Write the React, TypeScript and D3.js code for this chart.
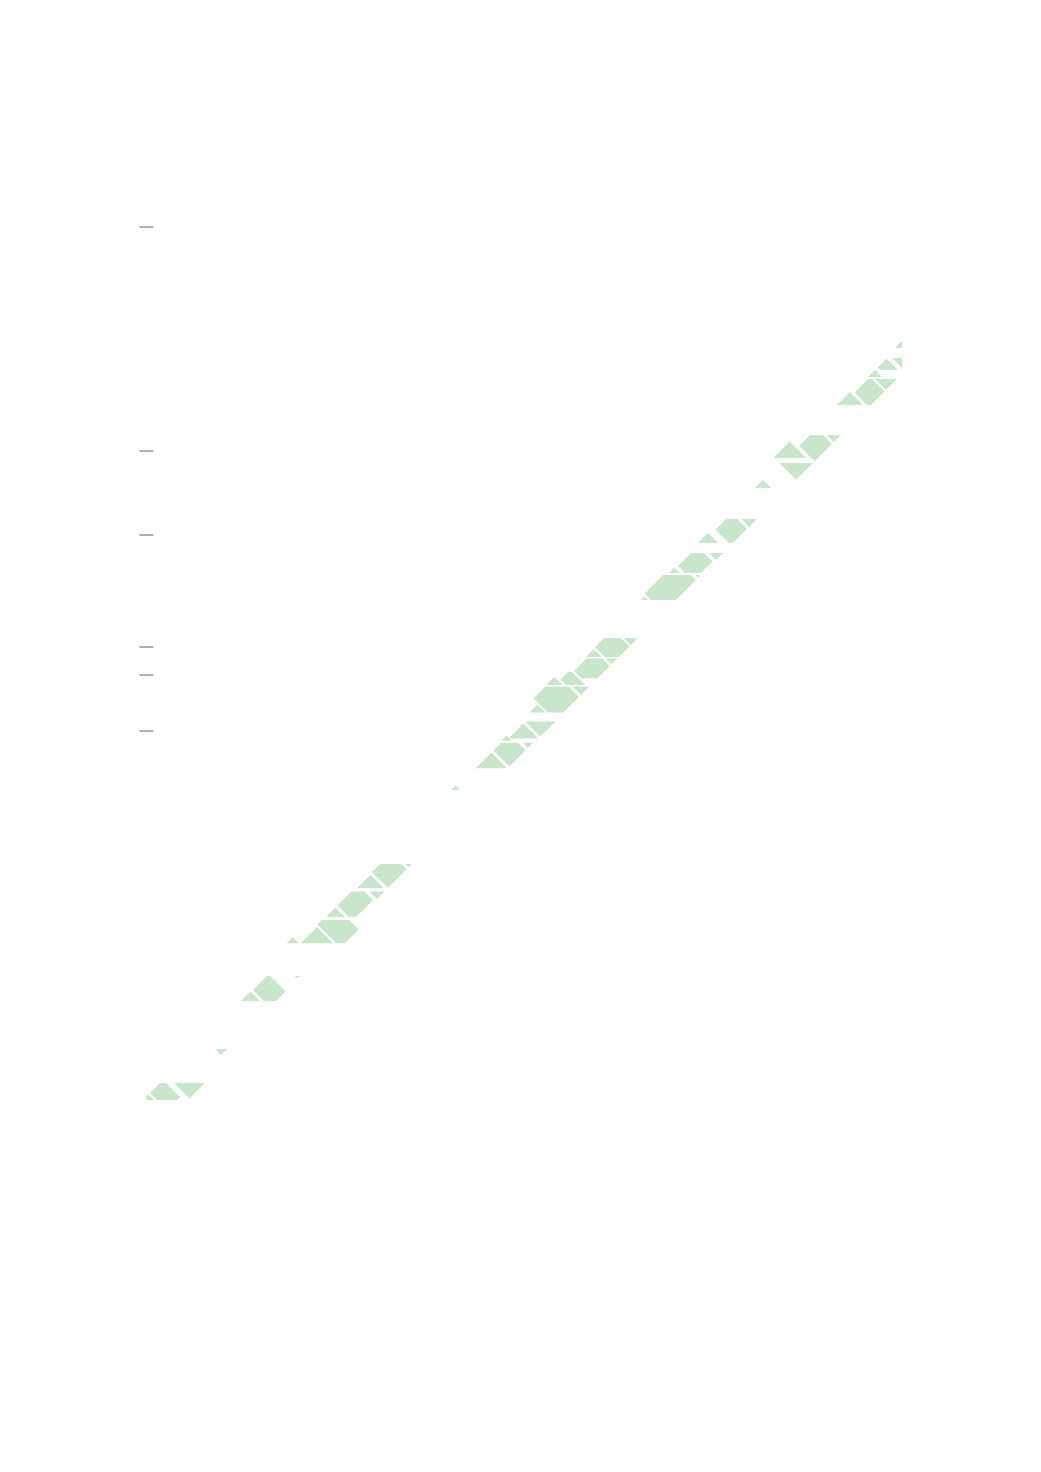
import React from "react";
import * as d3 from "d3";

// Pieces of the diagonal band. Each piece is bounded along the diagonal
// (alongStart..alongEnd), across it (acrossStart..acrossEnd) and vertically (yBottom..yTop).
const alongStart = [27.18, 26.32, 27.18, 24.79, 25.89, 26.5, 22.82, 23.95, 24.64, 23.29, 22.11, 20.14, 20.96, 21.61, 19.07, 19.64, 20.43, 18.0, 18.55, 19.79, 16.71, 17.39, 16.21, 15.91, 16.7, 14.79, 15.52, 14.07, 14.7, 15.61, 13.36, 14.14, 13.0, 12.29, 13.05, 13.71, 11.21, 7.64, 8.71, 9.45, 6.75, 7.5, 8.32, 5.14, 6.04, 6.8, 3.71, 4.48, 5.14, 2.75, 0.14, 0.8, 1.41, 26.75];
const alongEnd = [28.36, 26.66, 28.36, 25.82, 26.45, 27.64, 23.86, 24.57, 25.68, 23.89, 22.7, 20.77, 21.54, 22.29, 19.55, 20.34, 21.21, 18.5, 19.71, 20.5, 17.34, 18.18, 16.66, 16.64, 17.46, 15.46, 15.86, 14.66, 15.54, 16.57, 14.07, 14.96, 13.55, 12.98, 13.63, 14.16, 11.75, 8.64, 9.38, 10.14, 7.43, 8.23, 9.07, 6.13, 6.75, 7.45, 4.41, 5.04, 5.57, 3.36, 0.75, 1.27, 2.11, 27.07];
const acrossStart = [-0.54, -0.46, -0.46, -0.57, -0.39, -0.39, -0.96, -0.46, -0.46, -0.82, -0.54, -0.61, -0.46, -0.46, -0.57, -0.5, -0.46, -0.61, -0.71, -0.46, -0.57, -0.46, -0.54, -0.46, -0.46, -0.96, -0.64, -0.57, -0.93, -0.46, -0.39, -0.46, -0.57, -0.5, -0.5, -0.46, -0.61, -0.46, -0.5, -0.46, -0.54, -0.54, -0.46, -1.0, -0.5, -0.57, -0.57, -0.54, 0.5, -0.64, -0.54, -0.54, -0.29, -0.46];
const acrossEnd = [0.64, 0.64, 0.64, 0.64, 0.64, 0.64, 0.64, 0.64, 0.64, 0.64, 0.64, 0.64, 0.64, 0.64, 0.64, 0.57, 0.64, 0.64, 0.64, 0.64, 0.64, 0.64, 0.64, 0.64, 0.64, 0.64, 0.64, 0.64, 0.64, 0.64, 0.64, 0.68, 0.64, 0.64, 0.64, 0.64, 0.64, 0.64, 0.64, 0.64, 0.64, 0.54, 0.64, 0.64, 0.64, 1.07, 0.64, 0.68, 0.64, 0.64, 0.64, 0.68, 1.07, 0.64];
const yTop = [27.89, 27.32, 27.32, 26.57, 26.57, 26.57, 24.57, 24.57, 24.57, 23.57, 23.32, 21.36, 21.57, 21.57, 20.11, 20.36, 20.36, 19.04, 19.57, 19.57, 17.32, 17.32, 17.07, 16.59, 16.59, 16.18, 16.11, 15.11, 15.59, 15.59, 14.34, 14.34, 13.93, 13.32, 13.58, 13.58, 12.14, 9.04, 9.25, 9.25, 7.79, 8.27, 8.27, 6.89, 7.25, 7.25, 5.11, 5.25, 5.25, 2.64, 1.07, 1.43, 1.43, 27.32];
const yBottom = [27.68, 26.64, 26.89, 25.64, 25.64, 25.64, 23.75, 23.64, 23.64, 22.89, 22.68, 20.71, 20.71, 21.18, 19.64, 19.64, 20.04, 18.68, 18.68, 19.21, 16.64, 16.89, 16.64, 15.88, 16.18, 15.64, 15.64, 14.66, 14.66, 15.11, 13.73, 13.68, 13.65, 12.67, 12.71, 13.32, 11.89, 8.39, 8.39, 8.86, 7.36, 7.36, 7.79, 6.42, 6.42, 6.42, 4.36, 4.36, 5.2, 2.36, 0.82, 0.82, 0.82, 26.89];

// y axis tick positions (no labels in the reference)
const yTicks = [14, 16, 17, 21, 24, 32];

const xDomain: [number, number] = [0.4, 27.4];
const yDomain: [number, number] = [0.8, 33];

const width = 1041;
const height = 1472;
const fillColor = "#c7e6cb";
const tickColor = "#7a7a7a";

type Pt = [number, number];

// keep the part of a polygon where f(p) >= 0
const clipHalf = (poly: Pt[], f: (p: Pt) => number): Pt[] => {
  const out: Pt[] = [];
  for (let i = 0; i < poly.length; i++) {
    const p = poly[i];
    const q = poly[(i + 1) % poly.length];
    const fp = f(p);
    const fq = f(q);
    if (fp >= 0) out.push(p);
    if (fp >= 0 !== fq >= 0) {
      const t = fp / (fp - fq);
      out.push([p[0] + t * (q[0] - p[0]), p[1] + t * (q[1] - p[1])]);
    }
  }
  return out;
};

const App: React.FC = () => {
  const xScale = d3.scaleLinear().domain(xDomain).range([146.2, 902.2]);
  const yScale = d3.scaleLinear().domain(yDomain).range([1100.6, 199]);

  const line = d3
    .line<Pt>()
    .x((p) => xScale(p[0]))
    .y((p) => yScale(p[1]));

  const pieces = alongStart.map((a0, i) => {
    const a1 = alongEnd[i];
    const o0 = acrossStart[i];
    const o1 = acrossEnd[i];
    let poly: Pt[] = [
      [xDomain[0], yBottom[i]],
      [xDomain[1], yBottom[i]],
      [xDomain[1], yTop[i]],
      [xDomain[0], yTop[i]],
    ];
    poly = clipHalf(poly, ([x, y]) => (x + y) / 2 - a0);
    poly = clipHalf(poly, ([x, y]) => a1 - (x + y) / 2);
    poly = clipHalf(poly, ([x, y]) => x - y - o0);
    poly = clipHalf(poly, ([x, y]) => o1 - (x - y));
    return poly.length > 2 ? (line(poly) as string) + "Z" : "";
  });

  const axisX = xScale(xDomain[0]);

  return (
    <svg
      width={width}
      height={height}
      style={{ position: "absolute", left: 0, top: 0, background: "#ffffff" }}
    >
      <g className="band">
        {pieces.map((d, i) =>
          d ? <path key={i} d={d} fill={fillColor} stroke="none" /> : null
        )}
      </g>
      <g className="y-ticks">
        {yTicks.map((t) => (
          <line
            key={t}
            x1={axisX - 7}
            x2={axisX + 7}
            y1={yScale(t)}
            y2={yScale(t)}
            stroke={tickColor}
            strokeWidth={1.2}
          />
        ))}
      </g>
    </svg>
  );
};

export default App;
